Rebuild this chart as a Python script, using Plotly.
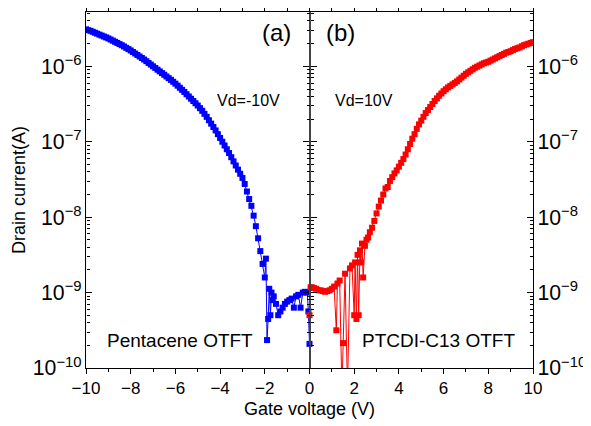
import plotly.graph_objects as go

# Pentacene OTFT, Vd=-10V  (gate voltage, log10 of drain current)
vg_pent = [-10, -9.9, -9.8, -9.7, -9.6, -9.5, -9.4, -9.3, -9.2, -9.1,
           -9.0, -8.9, -8.8, -8.7, -8.6, -8.5, -8.4, -8.3, -8.2, -8.1,
           -8.0, -7.9, -7.8, -7.7, -7.6, -7.5, -7.4, -7.3, -7.2, -7.1,
           -7.0, -6.9, -6.8, -6.7, -6.6, -6.5, -6.4, -6.3, -6.2, -6.1,
           -6.0, -5.9, -5.8, -5.7, -5.6, -5.5, -5.4, -5.3, -5.2, -5.1,
           -5.0, -4.9, -4.8, -4.7, -4.6, -4.5, -4.4, -4.3, -4.2, -4.1,
           -4.0, -3.9, -3.8, -3.7, -3.6, -3.5, -3.4, -3.3, -3.2, -3.1,
           -3.0, -2.9, -2.8, -2.7, -2.6, -2.5, -2.4, -2.3, -2.2, -2.1,
           -2.0, -1.95, -1.9, -1.85, -1.8, -1.75, -1.7, -1.65, -1.6, -1.5,
           -1.4, -1.3, -1.2, -1.1, -1.0, -0.9, -0.8, -0.7, -0.6, -0.5,
           -0.4, -0.3, -0.2, -0.1, -0.05, 0]
log_id_pent = [-5.51, -5.52, -5.53, -5.542, -5.555, -5.567, -5.58, -5.592, -5.605, -5.617,
               -5.63, -5.645, -5.66, -5.675, -5.69, -5.705, -5.72, -5.737, -5.755, -5.772,
               -5.79, -5.81, -5.83, -5.85, -5.87, -5.89, -5.91, -5.932, -5.955, -5.977,
               -6.0, -6.022, -6.045, -6.067, -6.09, -6.112, -6.135, -6.157, -6.18, -6.205,
               -6.23, -6.257, -6.285, -6.312, -6.34, -6.37, -6.4, -6.43, -6.46, -6.49,
               -6.52, -6.555, -6.59, -6.63, -6.67, -6.715, -6.76, -6.805, -6.85, -6.9,
               -6.95, -7.0, -7.05, -7.1, -7.15, -7.205, -7.26, -7.315, -7.37, -7.425,
               -7.48, -7.56, -7.66, -7.76, -7.85, -7.98, -8.12, -8.28, -8.45, -8.62,
               -8.8, -8.55, -9.63, -9.35, -8.95, -9.3, -9.0, -9.1, -9.05, -9.15,
               -9.3, -9.25, -9.2, -9.15, -9.12, -9.1, -9.08, -9.2, -9.05, -9.03,
               -9.2, -9.0, -8.99, -9.0, -9.25, -9.68]

# PTCDI-C13 OTFT, Vd=10V
vg_ptcdi = [0, 0.05, 0.1, 0.2, 0.3, 0.4, 0.5, 0.6, 0.7, 0.8,
            0.9, 1.0, 1.1, 1.2, 1.25, 1.35, 1.45, 1.5, 1.59, 1.7,
            1.81, 1.9, 2.0, 2.04, 2.1, 2.15, 2.2, 2.26, 2.3, 2.35,
            2.4, 2.48, 2.55, 2.62, 2.7, 2.8, 2.9, 3.0, 3.1, 3.2,
            3.3, 3.4, 3.5, 3.6, 3.7, 3.8, 3.9, 4.0, 4.1, 4.2,
            4.3, 4.4, 4.5, 4.6, 4.7, 4.8, 4.9, 5.0, 5.1, 5.2,
            5.3, 5.4, 5.5, 5.6, 5.7, 5.8, 5.9, 6.0, 6.1, 6.2,
            6.3, 6.4, 6.5, 6.6, 6.7, 6.8, 6.9, 7.0, 7.1, 7.2,
            7.3, 7.4, 7.5, 7.6, 7.7, 7.8, 7.9, 8.0, 8.1, 8.2,
            8.3, 8.4, 8.5, 8.6, 8.7, 8.8, 8.9, 9.0, 9.1, 9.2,
            9.3, 9.4, 9.5, 9.6, 9.7, 9.8, 9.9, 10]
log_id_ptcdi = [-9.3, -8.93, -8.93, -8.94, -8.95, -8.97, -8.97, -8.98, -8.99, -8.98,
                -8.97, -8.95, -8.92, -9.5, -8.88, -8.84, -10.3, -9.67, -8.75, -10.3,
                -8.68, -8.64, -9.3, -8.6, -9.35, -8.5, -9.3, -8.44, -8.6, -8.35,
                -8.8, -8.38, -8.3, -8.27, -8.2, -8.14, -8.05, -7.95, -7.86, -7.78,
                -7.7, -7.62, -7.6, -7.52, -7.47, -7.42, -7.38, -7.33, -7.28, -7.23,
                -7.17, -7.1, -7.03, -6.96, -6.9, -6.83, -6.77, -6.72, -6.67, -6.62,
                -6.58, -6.54, -6.5, -6.46, -6.425, -6.39, -6.36, -6.33, -6.305, -6.28,
                -6.26, -6.24, -6.22, -6.2, -6.175, -6.15, -6.125, -6.1, -6.08, -6.06,
                -6.04, -6.02, -6.005, -5.99, -5.975, -5.96, -5.95, -5.94, -5.925, -5.91,
                -5.895, -5.88, -5.865, -5.85, -5.835, -5.82, -5.81, -5.8, -5.785, -5.77,
                -5.76, -5.75, -5.735, -5.72, -5.71, -5.7, -5.69, -5.68]

id_pent = [10 ** v for v in log_id_pent]
id_ptcdi = [10 ** v for v in log_id_ptcdi]

font = "Liberation Sans, Arial, sans-serif"
yrange = [-10, -5.28]
minor_vals = [m * 10.0 ** e for e in range(-10, -5) for m in range(2, 10)]

fig = go.Figure()

fig.add_trace(go.Scatter(x=vg_pent, y=id_pent, mode='lines+markers',
                         line=dict(color='#0000FF', width=1),
                         marker=dict(symbol='square', size=6, color='#0000FF'),
                         showlegend=False))
fig.add_trace(go.Scatter(x=vg_ptcdi, y=id_ptcdi, mode='lines+markers',
                         line=dict(color='#FF0000', width=1),
                         marker=dict(symbol='square', size=6, color='#FF0000'),
                         showlegend=False))
# empty traces so the extra y axes (right labels, centre line, minor ticks) get drawn
for n in range(2, 9):
    fig.add_trace(go.Scatter(x=[None], y=[None], yaxis='y%d' % n, showlegend=False, hoverinfo='skip'))


def extra_axis(position, side, ticks, ticklen, vals=None):
    d = dict(type='log', range=yrange, overlaying='y', anchor='free', position=position,
             side=side, showgrid=False, zeroline=False, showline=False, automargin=False,
             ticks=ticks, ticklen=ticklen, tickwidth=1, tickcolor='black', showticklabels=False)
    if vals is None:
        d['dtick'] = 1
    else:
        d['tickmode'] = 'array'
        d['tickvals'] = vals
    return d


# page body has an 8px margin, so the figure is 8px smaller than the window
fig.update_layout(
    width=583, height=418,
    margin=dict(l=78, r=58, t=4, b=58),
    plot_bgcolor='white', paper_bgcolor='white',
    font=dict(family=font, size=16, color='black'),
    xaxis=dict(range=[-10, 10], dtick=2, showgrid=False, zeroline=False,
               showline=True, linecolor='black', linewidth=1, mirror='ticks',
               ticks='outside', ticklen=5, tickcolor='black', automargin=False,
               minor=dict(ticks='outside', ticklen=3, dtick=1, tickcolor='black'),
               title=dict(text='Gate voltage (V)', standoff=4, font=dict(size=18)),
               tickfont=dict(size=17)),
    yaxis=dict(type='log', range=yrange, dtick=1, exponentformat='power',
               showgrid=False, zeroline=False, showline=True, linecolor='black',
               ticks='inside', ticklen=6, tickcolor='black', automargin=False,
               title=dict(text='Drain current(A)', standoff=2, font=dict(size=18)),
               tickfont=dict(size=17)),
    yaxis2=dict(type='log', range=yrange, dtick=1, exponentformat='power',
                overlaying='y', side='right', showgrid=False, zeroline=False,
                showline=True, linecolor='black', ticks='inside', ticklen=6,
                tickcolor='black', automargin=False, tickfont=dict(size=17)),
    # centre divider with ticks on both sides
    yaxis3=dict(extra_axis(0.5, 'left', 'outside', 6), showline=True,
                linecolor='#444444', linewidth=1.5),
    yaxis4=extra_axis(0.5, 'right', 'outside', 6),
    # minor ticks
    yaxis5=extra_axis(0, 'left', 'inside', 3, minor_vals),
    yaxis6=extra_axis(1, 'right', 'inside', 3, minor_vals),
    yaxis7=extra_axis(0.5, 'left', 'outside', 3, minor_vals),
    yaxis8=extra_axis(0.5, 'right', 'outside', 3, minor_vals),
)

labels = [
    dict(x=-0.75, y=-5.55, text='(a)', size=24, xanchor='right'),
    dict(x=0.65, y=-5.55, text='(b)', size=24, xanchor='left'),
    dict(x=-2.75, y=-6.45, text='Vd=-10V', size=16, xanchor='center'),
    dict(x=2.45, y=-6.45, text='Vd=10V', size=16, xanchor='center'),
    dict(x=-5.8, y=-9.64, text='Pentacene OTFT', size=19, xanchor='center'),
    dict(x=5.75, y=-9.64, text='PTCDI-C13 OTFT', size=19, xanchor='center'),
]
for a in labels:
    fig.add_annotation(x=a['x'], y=a['y'], xref='x', yref='y', text=a['text'],
                       showarrow=False, xanchor=a['xanchor'], yanchor='middle',
                       font=dict(family=font, size=a['size'], color='black'))

fig.write_html("out.html")
